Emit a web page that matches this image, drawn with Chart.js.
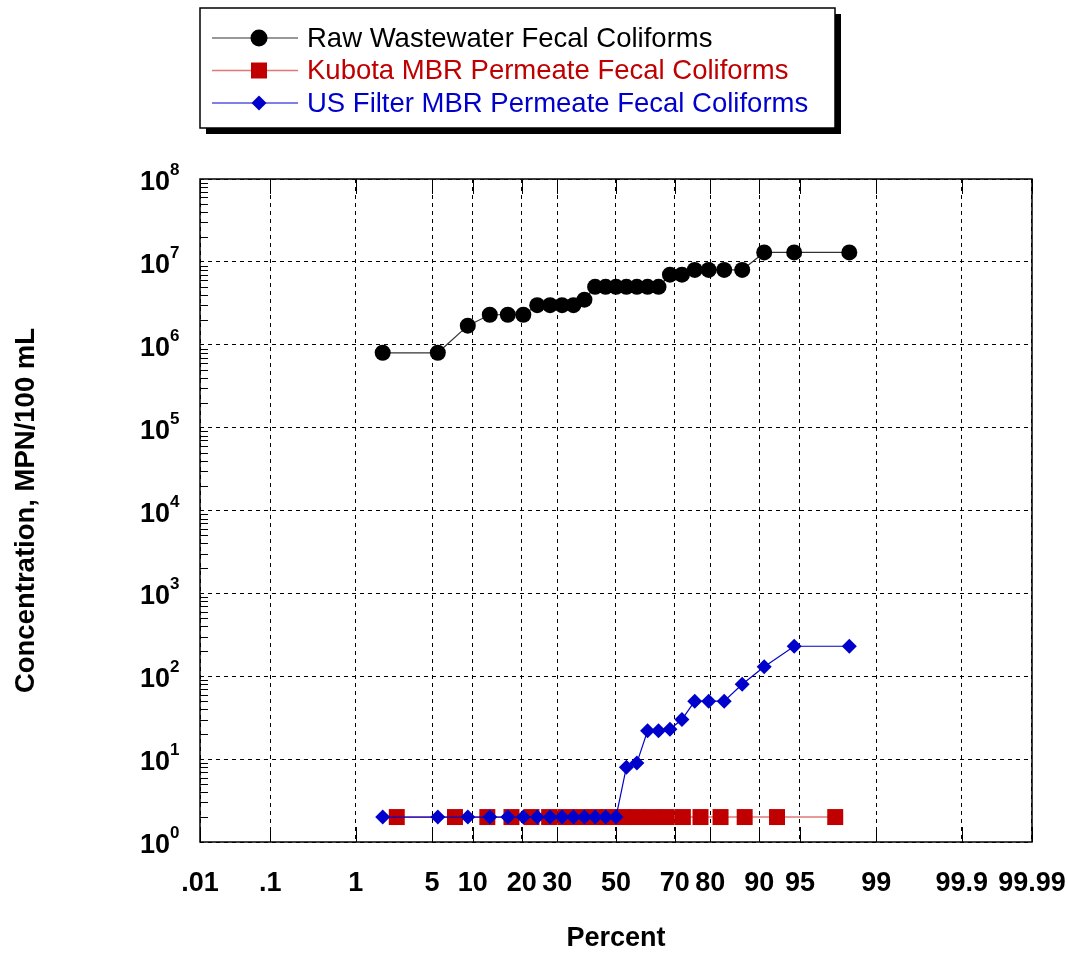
<!DOCTYPE html>
<html>
<head>
<meta charset="utf-8">
<script src="https://cdn.jsdelivr.net/npm/chart.js@4.4.0/dist/chart.umd.min.js"></script>
<style>
  html, body { margin: 0; padding: 0; background: #fff; }
  canvas { display: block; }
</style>
</head>
<body>
<canvas id="prob-chart" width="1068" height="957"></canvas>
<script>
/* ================================================================ */
/* Fecal coliform probability plot                                  */
/* ================================================================ */

// probability axis ticks (percent) and their labels
const percentTicks = [0.01, 0.1, 1, 5, 10, 20, 30, 50, 70, 80, 90, 95, 99, 99.9, 99.99];
const percentLabels = ['.01', '.1', '1', '5', '10', '20', '30', '50', '70', '80', '90', '95', '99', '99.9', '99.99'];
const decadeTicks = [1, 10, 100, 1000, 10000, 100000, 1000000, 10000000, 100000000];

// raw wastewater (27 samples)
const rawPercent = [1.85, 5.56, 9.26, 12.96, 16.67, 20.37, 24.07, 27.78, 31.48, 35.19, 38.89, 42.59, 46.30, 50.00,
                    53.70, 57.41, 61.11, 64.81, 68.52, 72.22, 75.93, 79.63, 83.33, 87.04, 90.74, 94.44, 98.15];
const rawValues = [8e5, 8e5, 1.7e6, 2.3e6, 2.3e6, 2.3e6, 3e6, 3e6, 3e6, 3e6, 3.5e6, 5e6, 5e6, 5e6,
                   5e6, 5e6, 5e6, 5e6, 7e6, 7e6, 8e6, 8e6, 8e6, 8e6, 1.3e7, 1.3e7, 1.3e7];

// Kubota MBR permeate (20 samples)
const kubotaPercent = [2.5, 7.5, 12.5, 17.5, 22.5, 27.5, 32.5, 37.5, 42.5, 47.5,
                       52.5, 57.5, 62.5, 67.5, 72.5, 77.5, 82.5, 87.5, 92.5, 97.5];
const kubotaValues = [2, 2, 2, 2, 2, 2, 2, 2, 2, 2, 2, 2, 2, 2, 2, 2, 2, 2, 2, 2];

// US Filter MBR permeate (27 samples)
const usfPercent = [1.85, 5.56, 9.26, 12.96, 16.67, 20.37, 24.07, 27.78, 31.48, 35.19, 38.89, 42.59, 46.30, 50.00,
                    53.70, 57.41, 61.11, 64.81, 68.52, 72.22, 75.93, 79.63, 83.33, 87.04, 90.74, 94.44, 98.15];
const usfValues = [2, 2, 2, 2, 2, 2, 2, 2, 2, 2, 2, 2, 2, 2,
                   8, 9, 22, 22, 23, 30, 50, 50, 50, 80, 130, 230, 230];

const FONT = '"Liberation Sans", Arial, Helvetica, sans-serif';

// inverse standard normal CDF (Acklam)
function probit(p) {
    const a = [-3.969683028665376e+01, 2.209460984245205e+02, -2.759285104469687e+02, 1.383577518672690e+02, -3.066479806614716e+01, 2.506628277459239e+00];
    const b = [-5.447609879822406e+01, 1.615858368580409e+02, -1.556989798598866e+02, 6.680131188771972e+01, -1.328068155288572e+01];
    const c = [-7.784894002430293e-03, -3.223964580411365e-01, -2.400758277161838e+00, -2.549732539343734e+00, 4.374664141464968e+00, 2.938163982698783e+00];
    const d = [7.784695709041462e-03, 3.224671290700398e-01, 2.445134137142996e+00, 3.754408661907416e+00];
    const pl = 0.02425;
    let q, r;
    if (p < pl) {
        q = Math.sqrt(-2 * Math.log(p));
        return (((((c[0] * q + c[1]) * q + c[2]) * q + c[3]) * q + c[4]) * q + c[5]) / ((((d[0] * q + d[1]) * q + d[2]) * q + d[3]) * q + 1);
    }
    if (p > 1 - pl) {
        q = Math.sqrt(-2 * Math.log(1 - p));
        return -(((((c[0] * q + c[1]) * q + c[2]) * q + c[3]) * q + c[4]) * q + c[5]) / ((((d[0] * q + d[1]) * q + d[2]) * q + d[3]) * q + 1);
    }
    q = p - 0.5;
    r = q * q;
    return (((((a[0] * r + a[1]) * r + a[2]) * r + a[3]) * r + a[4]) * r + a[5]) * q / (((((b[0] * r + b[1]) * r + b[2]) * r + b[3]) * r + b[4]) * r + 1);
}

function toPoints(percents, values) {
    return percents.map((p, i) => ({ x: probit(p / 100), y: values[i] }));
}

// plot frame, inner tick marks, log-decade labels with superscripts
const framePlugin = {
    id: 'frame',
    beforeDatasetsDraw(chart) {
        const { ctx, chartArea: a, scales } = chart;
        ctx.save();
        ctx.strokeStyle = '#000';
        ctx.lineWidth = 1;
        // minor ticks on left axis
        ctx.beginPath();
        for (let k = 0; k < 8; k++) {
            for (let m = 2; m <= 9; m++) {
                const y = Math.round(scales.y.getPixelForValue(m * Math.pow(10, k))) + 0.5;
                ctx.moveTo(a.left, y);
                ctx.lineTo(a.left + 8, y);
            }
        }
        // major ticks on bottom and top
        percentTicks.forEach(p => {
            const x = Math.round(scales.x.getPixelForValue(probit(p / 100))) + 0.5;
            ctx.moveTo(x, a.bottom);
            ctx.lineTo(x, a.bottom - 15);
            ctx.moveTo(x, a.top);
            ctx.lineTo(x, a.top + 15);
        });
        ctx.stroke();
        // frame
        ctx.lineWidth = 1.5;
        ctx.strokeRect(a.left, a.top, a.right - a.left, a.bottom - a.top);
        ctx.restore();
    },
    afterDraw(chart) {
        const { ctx, chartArea: a, scales } = chart;
        ctx.save();
        ctx.fillStyle = '#000';
        decadeTicks.forEach((v, k) => {
            const y = scales.y.getPixelForValue(v);
            ctx.font = 'bold 27px ' + FONT;
            ctx.textAlign = 'right';
            ctx.textBaseline = 'alphabetic';
            ctx.fillText('10', a.left - 30, y + 11);
            ctx.font = 'bold 17px ' + FONT;
            ctx.textAlign = 'left';
            ctx.fillText(String(k), a.left - 30, y - 4);
        });
        ctx.restore();
    }
};

// boxed legend with drop shadow above the plot
const legendBoxPlugin = {
    id: 'legendBox',
    afterDraw(chart) {
        const ctx = chart.ctx;
        const box = { x: 200, y: 8, w: 635, h: 120 };
        ctx.save();
        ctx.fillStyle = '#000';
        ctx.fillRect(box.x + 6, box.y + 6, box.w, box.h);
        ctx.fillStyle = '#fff';
        ctx.fillRect(box.x, box.y, box.w, box.h);
        ctx.strokeStyle = '#000';
        ctx.lineWidth = 1.5;
        ctx.strokeRect(box.x, box.y, box.w, box.h);

        const rows = [38, 70.5, 103];
        const mx = 259;
        chart.data.datasets.forEach((ds, i) => {
            const y = rows[i];
            ctx.strokeStyle = ds.borderColor;
            ctx.lineWidth = ds.borderWidth;
            ctx.beginPath();
            ctx.moveTo(212, y);
            ctx.lineTo(298, y);
            ctx.stroke();
            ctx.fillStyle = ds.pointBackgroundColor;
            ctx.beginPath();
            if (ds.pointStyle === 'circle') {
                ctx.arc(mx, y, 8.5, 0, Math.PI * 2);
            } else if (ds.pointStyle === 'rect') {
                ctx.rect(mx - 8, y - 8, 16, 16);
            } else {
                ctx.moveTo(mx, y - 7.5);
                ctx.lineTo(mx + 7.5, y);
                ctx.lineTo(mx, y + 7.5);
                ctx.lineTo(mx - 7.5, y);
                ctx.closePath();
            }
            ctx.fill();
            ctx.font = '27.5px ' + FONT;
            ctx.textAlign = 'left';
            ctx.textBaseline = 'middle';
            ctx.fillStyle = ds.textColor;
            ctx.fillText(ds.label, 307, y + 1);
        });
        ctx.restore();
    }
};

const ctx = document.getElementById('prob-chart');

new Chart(ctx, {
    type: 'scatter',
    data: {
        datasets: [
            {
                label: 'Raw Wastewater Fecal Coliforms',
                data: toPoints(rawPercent, rawValues),
                showLine: true,
                borderColor: '#333',
                borderWidth: 1.2,
                pointStyle: 'circle',
                pointRadius: 8,
                pointBackgroundColor: '#000',
                pointBorderWidth: 0,
                textColor: '#000',
                order: 2
            },
            {
                label: 'Kubota MBR Permeate Fecal Coliforms',
                data: toPoints(kubotaPercent, kubotaValues),
                showLine: true,
                borderColor: '#e07878',
                borderWidth: 1.5,
                pointStyle: 'rect',
                pointRadius: 11.3,
                pointBackgroundColor: '#c00000',
                pointBorderWidth: 0,
                textColor: '#c00000',
                order: 1
            },
            {
                label: 'US Filter MBR Permeate Fecal Coliforms',
                data: toPoints(usfPercent, usfValues),
                showLine: true,
                borderColor: '#0000cc',
                borderWidth: 1.2,
                pointStyle: 'rectRot',
                pointRadius: 7.5,
                pointBackgroundColor: '#0000cc',
                pointBorderWidth: 0,
                textColor: '#0000cc',
                order: 0
            }
        ]
    },
    options: {
        responsive: false,
        animation: false,
        layout: { padding: { top: 179, right: 36, left: 0, bottom: 0 } },
        plugins: {
            legend: { display: false },
            tooltip: { enabled: false }
        },
        scales: {
            x: {
                type: 'linear',
                min: probit(0.0001),
                max: probit(0.9999),
                afterBuildTicks: scale => {
                    scale.ticks = percentTicks.map(p => ({ value: probit(p / 100) }));
                },
                afterFit: scale => {
                    scale.height = 115;
                    scale.paddingLeft = 0;
                    scale.paddingRight = 0;
                },
                ticks: {
                    autoSkip: false,
                    maxRotation: 0,
                    padding: 25,
                    color: '#000',
                    font: { family: FONT, size: 27, weight: 'bold' },
                    callback: (value, index) => percentLabels[index]
                },
                grid: { color: '#000', lineWidth: 1, drawTicks: false },
                border: { display: false, dash: [4, 4] },
                title: {
                    display: true,
                    text: 'Percent',
                    color: '#000',
                    font: { family: FONT, size: 27, weight: 'bold' },
                    padding: { top: 0, bottom: 2 }
                }
            },
            y: {
                type: 'logarithmic',
                min: 1,
                max: 1e8,
                afterBuildTicks: scale => {
                    scale.ticks = decadeTicks.map(v => ({ value: v }));
                },
                afterFit: scale => { scale.width = 200; },
                ticks: { display: false },
                grid: { color: '#000', lineWidth: 1, drawTicks: false },
                border: { display: false, dash: [4, 4] },
                title: {
                    display: true,
                    text: 'Concentration, MPN/100 mL',
                    color: '#000',
                    font: { family: FONT, size: 27.5, weight: 'bold' },
                    padding: { top: 10, bottom: 0 }
                }
            }
        }
    },
    plugins: [framePlugin, legendBoxPlugin]
});
</script>
</body>
</html>
